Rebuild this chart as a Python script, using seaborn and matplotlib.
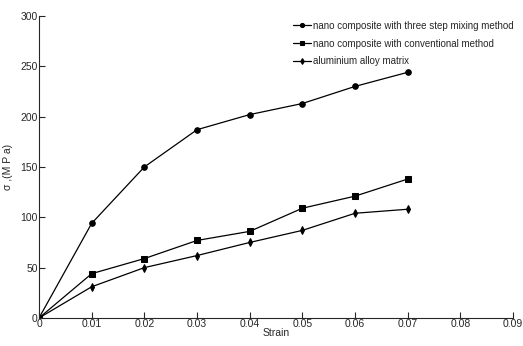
import matplotlib
matplotlib.use('Agg')
import matplotlib.pyplot as plt
import seaborn as sns
import pandas as pd

strain = [0, 0.01, 0.02, 0.03, 0.04, 0.05, 0.06, 0.07]
three_step = [0, 94, 150, 187, 202, 213, 230, 244]
conventional = [0, 44, 59, 77, 86, 109, 121, 138]
alloy = [0, 31, 50, 62, 75, 87, 104, 108]
labels = ['nano composite with three step mixing method',
          'nano composite with conventional method',
          'aluminium alloy matrix']

frames = []
for lab, vals in zip(labels, [three_step, conventional, alloy]):
    frames.append(pd.DataFrame({'strain': strain, 'stress': vals, 'series': lab}))
df = pd.concat(frames, ignore_index=True)

sns.set_style('ticks')
plt.rcParams['font.family'] = ['Liberation Sans', 'DejaVu Sans']

fig = plt.figure(figsize=(5.23, 3.46), dpi=100)
ax = fig.add_axes([0.0746, 0.081, 0.9064, 0.873])

sns.lineplot(data=df, x='strain', y='stress', hue='series', style='series',
             markers={labels[0]: 'o', labels[1]: 's', labels[2]: 'd'},
             dashes=False, palette=['black'] * 3, markersize=4, linewidth=0.9,
             markeredgecolor='black', ax=ax)

ax.set_xlim(0, 0.09)
ax.set_ylim(0, 300)
ax.set_xticks([0, 0.01, 0.02, 0.03, 0.04, 0.05, 0.06, 0.07, 0.08, 0.09])
ax.set_xticklabels(['0', '0.01', '0.02', '0.03', '0.04', '0.05', '0.06', '0.07', '0.08', '0.09'])
ax.set_yticks([0, 50, 100, 150, 200, 250, 300])
ax.tick_params(direction='in', labelsize=7.5, length=4, pad=1)
ax.set_xlabel('Strain', fontsize=7.5, labelpad=-1)
ax.set_ylabel('σ ,(M P a)', fontsize=7.5, labelpad=5)
sns.despine(ax=ax)
for s in ['left', 'bottom']:
    ax.spines[s].set_linewidth(0.8)

leg = ax.legend(frameon=False, fontsize=7, handlelength=1.9, handletextpad=0.15,
                labelspacing=0.8, loc='upper left', borderaxespad=0,
                bbox_to_anchor=(289 / 523, 1 - 17 / 346), bbox_transform=fig.transFigure)
for h in leg.legend_handles:
    h.set_markersize(3)

fig.savefig('out.png', dpi=100)
